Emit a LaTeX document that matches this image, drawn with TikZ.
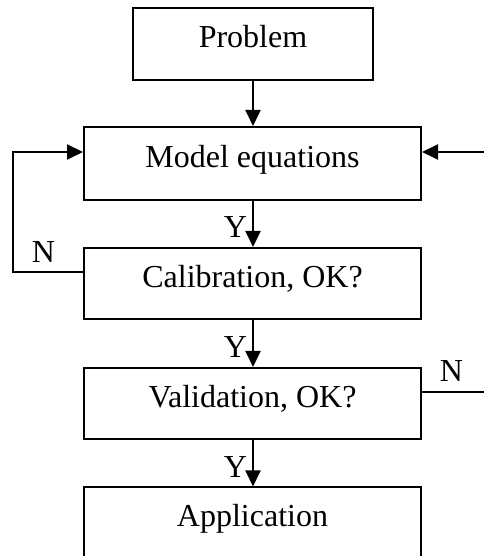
\documentclass[tikz,border=0pt]{standalone}
\usepackage{fontspec}
\setmainfont{Liberation Serif}
\usetikzlibrary{arrows.meta}
\begin{document}
\begin{tikzpicture}[x=1pt,y=1pt,
  line width=2pt,
  stepbox/.style={draw, line width=2pt, inner sep=0pt, font=\fontsize{32}{32}\selectfont,
    text height=14pt, text depth=6pt, minimum width=337pt},
  flow/.style={-{Triangle[length=16pt,width=15pt]}},
  tag/.style={inner sep=0pt, font=\fontsize{32}{32}\selectfont}]
\useasboundingbox (0,0) rectangle (483,556);

% process boxes
\node[stepbox, minimum width=240pt, minimum height=72pt] (prob) at (253,512) {Problem};
\node[stepbox, minimum height=73pt] (model) at (252.5,392.5) {Model equations};
\node[stepbox, minimum height=71pt] (calib) at (252.5,272.5) {Calibration, OK?};
\node[stepbox, minimum height=71pt] (valid) at (252.5,152.5) {Validation, OK?};
\node[stepbox, minimum height=71pt] (app) at (252.5,33) {Application};

% main flow
\draw[flow] (prob.south) -- (prob.south |- model.north);
\draw[flow] (model.south -| prob.south) -- (prob.south |- calib.north);
\draw[flow] (calib.south -| prob.south) -- (prob.south |- valid.north);
\draw[flow] (valid.south -| prob.south) -- (prob.south |- app.north);

% Y labels
\node[tag, anchor=base east] (y1) at (248,318) {Y};
\node[tag, anchor=base east] (y2) at (248,198) {Y};
\node[tag, anchor=base east] (y3) at (248,78) {Y};

% calibration failure loops back to the model equations
\coordinate (lcorner) at (13,404);
\draw[flow] ([yshift=11.5pt]calib.west) -| (lcorner) -- ([yshift=11.5pt]model.west);
\node[tag, anchor=base] (n1) at (43.5,293) {N};

% validation failure leaves on the right and returns to the model equations
\coordinate (rout) at (485,164);
\coordinate (rin) at (485,404);
\draw ([yshift=11.5pt]valid.east) -- (rout);
\draw[flow] (rin) -- ([yshift=11.5pt]model.east);
\node[tag, anchor=base] (n2) at (451.5,174) {N};
\end{tikzpicture}
\end{document}
